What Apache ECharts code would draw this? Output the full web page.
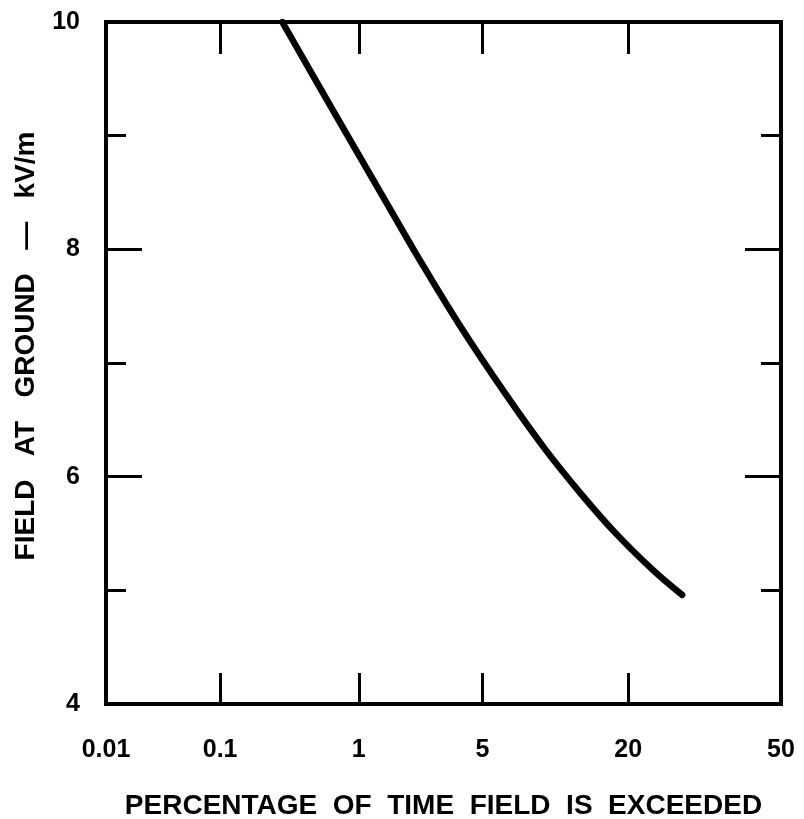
<!DOCTYPE html>
<html>
<head>
<meta charset="utf-8">
<script src="https://cdn.jsdelivr.net/npm/echarts@6/dist/echarts.min.js"></script>
<style>
html,body{margin:0;padding:0;background:#fff;}
#chart{width:804px;height:819px;}
</style>
</head>
<body>
<div id="chart"></div>
<script>
// ---- data ----
const percentExceeded = [0.30, 0.68, 1.42, 2.28, 3.84, 6.55, 9.7, 13.4, 18.0, 24.0, 29.3];
const fieldKVm        = [10.0, 9.22, 8.46, 7.93, 7.33, 6.71, 6.24, 5.86, 5.51, 5.18, 4.96];
const xTickPercents   = [0.01, 0.1, 1, 5, 20, 50];
const xTickLabels     = ['0.01', '0.1', '1', '5', '20', '50'];
const yMin = 4, yMax = 10;
const xTitle = 'PERCENTAGE  OF  TIME  FIELD  IS  EXCEEDED';
const yTitle = 'FIELD   AT   GROUND   —   kV/m';

// normal-probability scale: percent -> standard normal quantile (Acklam)
function qnorm(p){
  const a=[-3.969683028665376e+01,2.209460984245205e+02,-2.759285104469687e+02,1.383577518672690e+02,-3.066479806614716e+01,2.506628277459239e+00];
  const b=[-5.447609879822406e+01,1.615858368580409e+02,-1.556989798598866e+02,6.680131188771972e+01,-1.328068155288572e+01];
  const c=[-7.784894002430293e-03,-3.223964580411365e-01,-2.400758277161838e+00,-2.549732539343734e+00,4.374664141464968e+00,2.938163982698783e+00];
  const d=[7.784695709041462e-03,3.224671290700398e-01,2.445134137142996e+00,3.754408661907416e+00];
  const pl=0.02425, ph=1-pl; let q,r;
  if(p<pl){q=Math.sqrt(-2*Math.log(p));return (((((c[0]*q+c[1])*q+c[2])*q+c[3])*q+c[4])*q+c[5])/((((d[0]*q+d[1])*q+d[2])*q+d[3])*q+1);}
  if(p<=ph){q=p-0.5;r=q*q;return (((((a[0]*r+a[1])*r+a[2])*r+a[3])*r+a[4])*r+a[5])*q/(((((b[0]*r+b[1])*r+b[2])*r+b[3])*r+b[4])*r+1);}
  q=Math.sqrt(-2*Math.log(1-p));return -(((((c[0]*q+c[1])*q+c[2])*q+c[3])*q+c[4])*q+c[5])/((((d[0]*q+d[1])*q+d[2])*q+d[3])*q+1);
}
const toZ = pct => (pct >= 50 ? 0 : qnorm(pct/100));
const zTicks = xTickPercents.map(toZ);
const zInner = zTicks.slice(1, -1);
function labelFor(v){
  let best = 0, bd = Infinity;
  zTicks.forEach((z,i)=>{ const dd=Math.abs(z-v); if(dd<bd){bd=dd;best=i;} });
  return xTickLabels[best];
}

const font = 'Liberation Sans, Arial, Helvetica, sans-serif';
const chart = echarts.init(document.getElementById('chart'), null, {renderer:'canvas'});
const tickW = 3;
const xAxisBase = {
  type:'value', min: zTicks[0], max: zTicks[zTicks.length-1],
  splitLine:{show:false},
  axisLine:{show:false, onZero:false},
  axisTick:{show:true, inside:true, length:31, customValues: zInner, lineStyle:{color:'#000', width:tickW}},
};
const yAxisBase = {
  type:'value', min:yMin, max:yMax, interval:2,
  splitLine:{show:false},
  axisLine:{show:false, onZero:false},
  axisTick:{show:true, inside:true, length:36, lineStyle:{color:'#000', width:tickW}},
  minorTick:{show:true, splitNumber:2, length:20, lineStyle:{color:'#000', width:tickW}},
  minorSplitLine:{show:false}
};
chart.setOption({
  animation:false,
  backgroundColor:'#fff',
  grid:{left:106, right:23, top:22, bottom:115, outerBoundsMode:'none', containLabel:false,
        show:true, borderColor:'#000', borderWidth:4, backgroundColor:'transparent'},
  xAxis:[
    Object.assign({}, xAxisBase, {
      position:'bottom',
      axisLabel:{show:true, customValues: zTicks, margin:34, color:'#000', fontSize:25, fontWeight:'bold', fontFamily:font,
        formatter: v => labelFor(v)},
      name: xTitle, nameLocation:'middle', nameGap:88,
      nameTextStyle:{color:'#000', fontSize:28, fontWeight:'bold', fontFamily:font}
    }),
    Object.assign({}, xAxisBase, {position:'top', axisLabel:{show:false},
      axisTick:Object.assign({}, xAxisBase.axisTick, {length:32})})
  ],
  yAxis:[
    Object.assign({}, yAxisBase, {
      position:'left',
      axisLabel:{show:true, margin:26, color:'#000', fontSize:25, fontWeight:'bold', fontFamily:font},
      name: yTitle, nameLocation:'middle', nameGap:66, nameRotate:90,
      nameTextStyle:{color:'#000', fontSize:28, fontWeight:'bold', fontFamily:font, padding:[0,0,0,34]}
    }),
    Object.assign({}, yAxisBase, {position:'right', axisLabel:{show:false}})
  ],
  series:[{
    type:'line',
    data: percentExceeded.map((p,i)=>[toZ(p), fieldKVm[i]]),
    smooth:0.4,
    showSymbol:false,
    lineStyle:{color:'#000', width:6.5, cap:'round', join:'round'},
    clip:true
  }]
});
</script>
</body>
</html>
